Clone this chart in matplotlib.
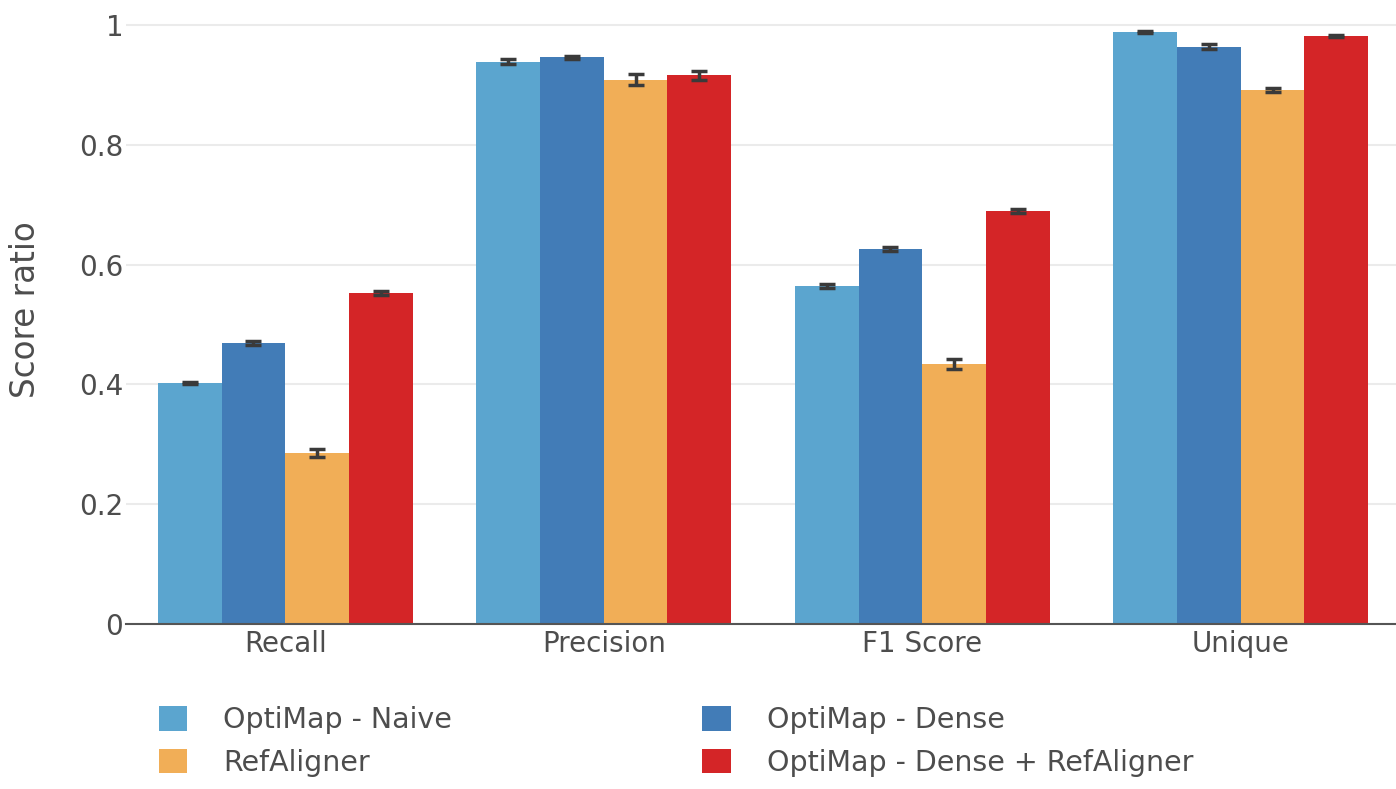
import matplotlib.pyplot as plt
from matplotlib.patches import Patch
import numpy as np

plt.rcParams['font.family'] = ['DejaVu Sans']

categories = ["Recall", "Precision", "F1 Score", "Unique"]
series_names = ["OptiMap - Naive", "OptiMap - Dense", "RefAligner",
                "OptiMap - Dense + RefAligner"]
naive = [0.402, 0.939, 0.564, 0.988]
dense = [0.469, 0.946, 0.626, 0.964]
refaligner = [0.285, 0.909, 0.434, 0.891]
dense_ref = [0.553, 0.916, 0.689, 0.982]
naive_err = [0.002, 0.004, 0.003, 0.002]
dense_err = [0.003, 0.003, 0.003, 0.004]
refaligner_err = [0.007, 0.009, 0.008, 0.003]
dense_ref_err = [0.003, 0.007, 0.003, 0.002]

colors = ["#5ba5cf", "#427cb7", "#f1ae57", "#d42527"]
values = [naive, dense, refaligner, dense_ref]
errors = [naive_err, dense_err, refaligner_err, dense_ref_err]
text_color = '#4d4d4d'

W, H = 1396, 789
fig = plt.figure(figsize=(W / 100, H / 100), dpi=100)
# axes: x from 126px to 1400px, y=0 at 624px, y=1 at 25px
ax = fig.add_axes([126 / W, (H - 624) / H, (1400 - 126) / W, 599 * 1.04 / H])

x = np.arange(len(categories))
bw = 0.2
for i, (vals, errs, c) in enumerate(zip(values, errors, colors)):
    pos = x - 0.3 + i * bw
    ax.bar(pos, vals, width=bw, color=c, edgecolor='none', zorder=2)
    ax.errorbar(pos, vals, yerr=errs, fmt='none', ecolor='#3a3a3a',
                elinewidth=2.5, capsize=6, capthick=2.5, zorder=3)

ax.set_xlim(-0.5, len(categories) - 0.5)
ax.set_ylim(0, 1.04)
ax.set_yticks([0, 0.2, 0.4, 0.6, 0.8, 1])
ax.set_yticklabels(["0", "0.2", "0.4", "0.6", "0.8", "1"])
ax.set_xticks(x)
ax.set_xticklabels(categories)
ax.tick_params(axis='both', length=0, labelsize=20, labelcolor=text_color)
ax.tick_params(axis='y', pad=2)
ax.tick_params(axis='x', pad=4)
ax.grid(axis='y', color='#ebebeb', linewidth=1.5, zorder=0)
for s in ['top', 'right', 'left']:
    ax.spines[s].set_visible(False)
ax.spines['bottom'].set_color('#555555')
ax.spines['bottom'].set_linewidth(1.5)
ax.spines['bottom'].set_zorder(4)

fig.text(26 / W, 1 - 310 / H, "Score ratio", rotation=90, ha='center',
         va='center', fontsize=23.5, color=text_color)

handles = [Patch(facecolor=c, edgecolor='none') for c in colors]
order = [0, 2, 1, 3]
fig.legend([handles[i] for i in order], [series_names[i] for i in order],
           ncol=2, loc='upper left', bbox_to_anchor=(159 / W, 1 - 706 / H),
           frameon=False, fontsize=20.5, labelcolor=text_color,
           handlelength=1.0, handleheight=0.95, handletextpad=1.25,
           columnspacing=8.8, labelspacing=0.52, borderaxespad=0,
           borderpad=0)

fig.savefig("out.png", dpi=100)
